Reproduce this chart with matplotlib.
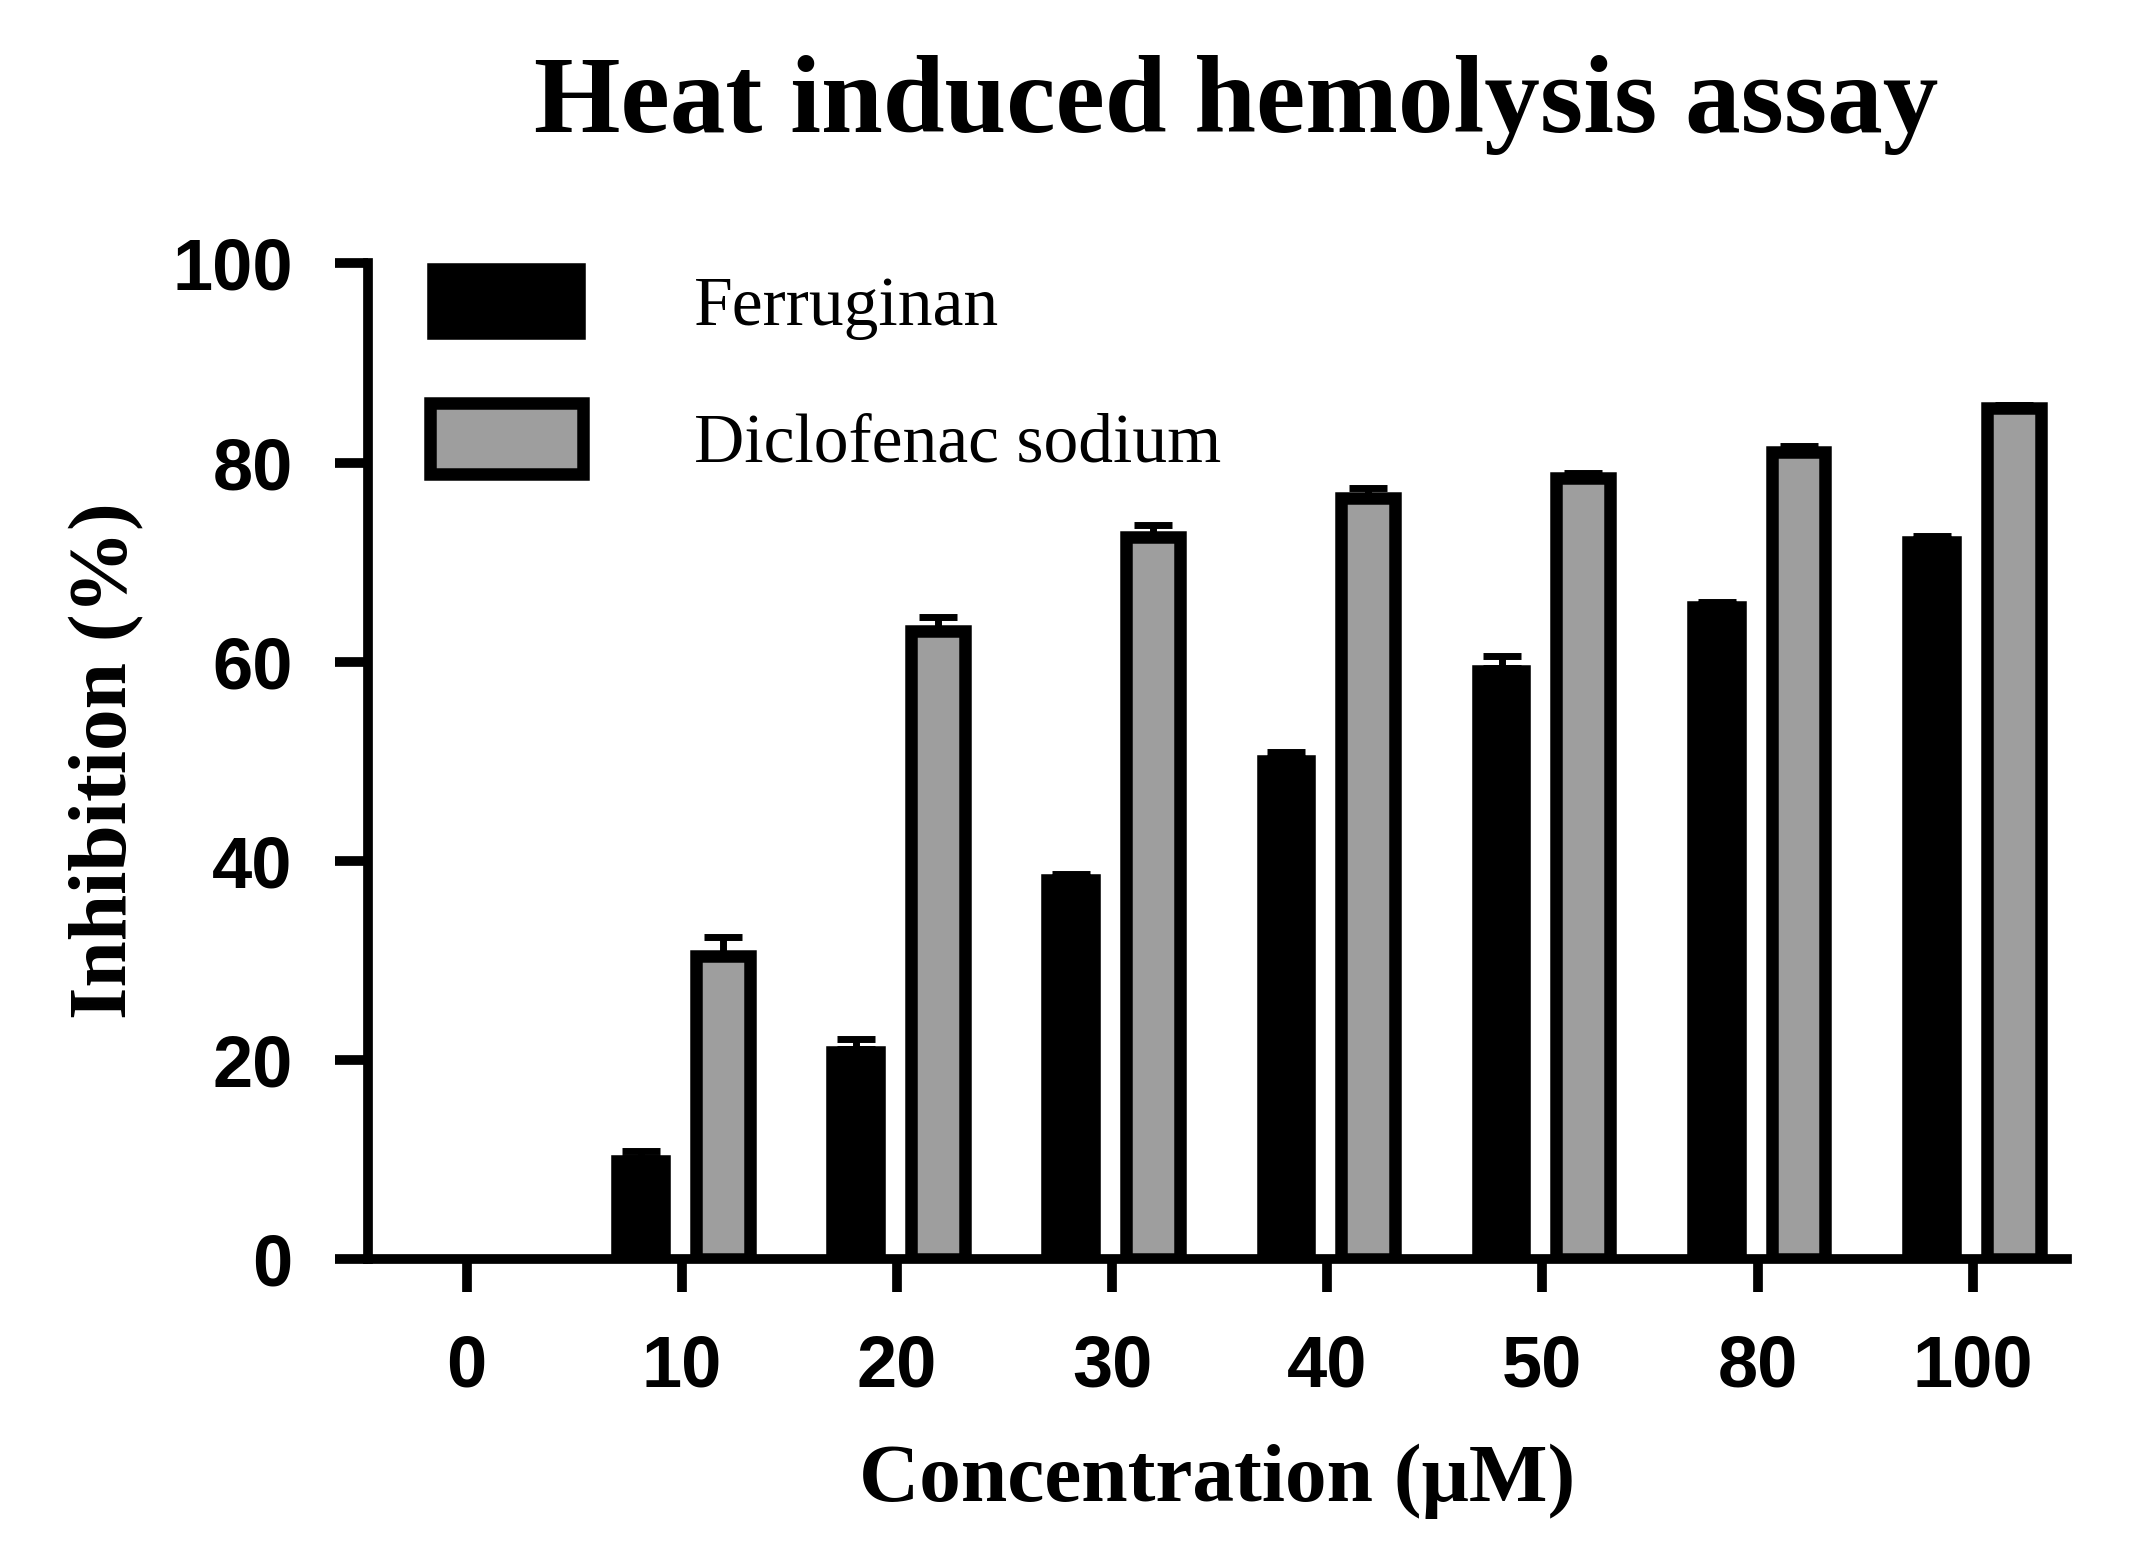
import matplotlib.pyplot as plt
import numpy as np

categories = ["0", "10", "20", "30", "40", "50", "80", "100"]
ferruginan = [0, 10.1, 21.1, 38.3, 50.3, 59.4, 65.8, 72.3]
ferruginan_err = [0, 0.7, 1.0, 0.3, 0.6, 1.2, 0.2, 0.3]
diclofenac = [0, 30.4, 63.1, 72.5, 76.4, 78.4, 81.1, 85.5]
diclofenac_err = [0, 1.9, 1.4, 1.2, 1.0, 0.5, 0.6, 0.3]

fig = plt.figure(figsize=(21.38, 15.5), dpi=100)
ax = fig.add_axes([0.172, 0.188, 0.795, 0.642])

x = np.arange(len(categories))
w = 0.25
f = np.array(ferruginan, dtype=float)
d = np.array(diclofenac, dtype=float)
f[f == 0] = np.nan
d[d == 0] = np.nan
ek = dict(ecolor="black", elinewidth=5, capsize=14, capthick=5)
ax.bar(x - 0.19, f, w, color="black", edgecolor="black", linewidth=4,
       yerr=[np.zeros(len(x)), ferruginan_err], error_kw=ek, label="Ferruginan")
ax.bar(x + 0.19, d, w, color="#9e9e9e", edgecolor="black", linewidth=9,
       yerr=[np.zeros(len(x)), diclofenac_err], error_kw=ek, label="Diclofenac sodium")

ax.set_xlim(-0.46, 7.44)
ax.set_ylim(0, 100)
ax.set_xticks(x)
ax.set_xticklabels(categories)
ax.set_yticks([0, 20, 40, 60, 80, 100])
for s in ["top", "right"]:
    ax.spines[s].set_visible(False)
for s in ["left", "bottom"]:
    ax.spines[s].set_linewidth(7)
ax.tick_params(width=7, length=24, pad=30)
for lab in ax.get_xticklabels() + ax.get_yticklabels():
    lab.set_fontfamily("Liberation Sans")
    lab.set_fontweight("bold")
    lab.set_fontsize(52)

serif = "Liberation Serif"
ax.set_xlabel("Concentration (\u03bcM)", fontfamily=serif, fontweight="bold", fontsize=60, labelpad=30)
ax.set_ylabel("Inhibition (%)", fontfamily=serif, fontweight="bold", fontsize=60, labelpad=20)
fig.text(0.578, 0.932, "Heat induced hemolysis assay", fontfamily=serif, fontweight="bold",
         fontsize=80, ha="center", va="center")

ax.legend(loc="upper left", bbox_to_anchor=(0.0, 1.06), frameon=False,
          prop=dict(family=serif, size=50), handlelength=2.2, handleheight=1.2,
          handletextpad=1.6, labelspacing=0.9)

fig.savefig("out.png", dpi=100)
